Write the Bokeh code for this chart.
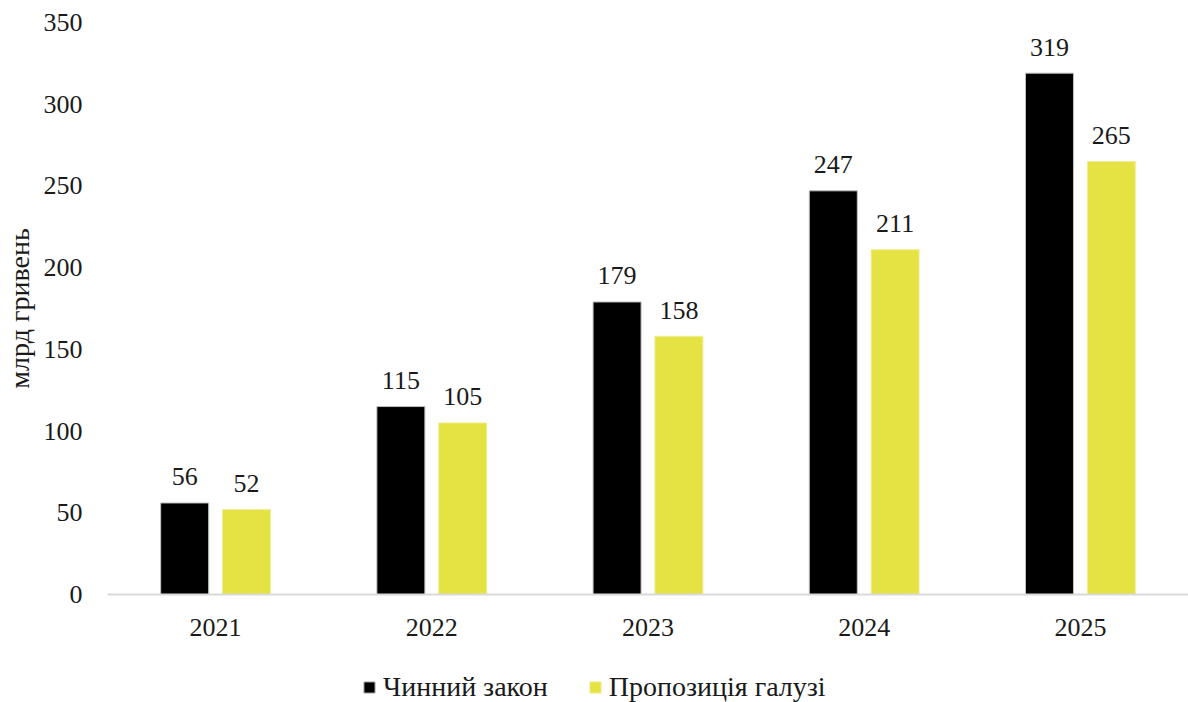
from bokeh.plotting import figure
from bokeh.layouts import column
from bokeh.models import ColumnDataSource, Legend, LegendItem, FixedTicker
from bokeh.transform import dodge
from bokeh.core.properties import value
from bokeh.embed import file_html
from bokeh.resources import INLINE

years = ["2021", "2022", "2023", "2024", "2025"]
current_law = [56, 115, 179, 247, 319]
industry_proposal = [52, 105, 158, 211, 265]
series_names = ["Чинний закон", "Пропозиція галузі"]
y_ticks = [0, 50, 100, 150, 200, 250, 300, 350]
y_label = "млрд гривень"

FONT = "Liberation Serif"
BLACK = "#000000"
YELLOW = "#E5E343"
TXT = "#1a1a1a"
BLACK_EDGE = "#bfbfbf"
YELLOW_EDGE = "#f0ee9a"

src = ColumnDataSource(dict(
    years=years,
    a=current_law,
    b=industry_proposal,
    a_txt=[str(v) for v in current_law],
    b_txt=[str(v) for v in industry_proposal],
))

p = figure(x_range=years, y_range=(0, 350),
           frame_width=1081, frame_height=572,
           output_backend="svg", toolbar_location=None,
           min_border_left=107, min_border_right=0, min_border_top=22,
           min_border_bottom=66)

off = 0.143
bw = 0.222
r1 = p.vbar(x=dodge("years", -off, range=p.x_range), top="a", width=bw, source=src,
            fill_color=BLACK, line_color=BLACK_EDGE, line_width=1)
r2 = p.vbar(x=dodge("years", off, range=p.x_range), top="b", width=bw, source=src,
            fill_color=YELLOW, line_color=YELLOW_EDGE, line_width=1)

for col, txt, sign in (("a", "a_txt", -1), ("b", "b_txt", 1)):
    p.text(x=dodge("years", sign * off, range=p.x_range), y=col, text=txt, source=src,
           text_align="center", text_baseline="alphabetic", y_offset=-26,
           text_font=value(FONT), text_font_size="26px", text_color=TXT)

p.grid.grid_line_color = None
p.outline_line_color = None
p.background_fill_color = "white"
p.border_fill_color = "white"

p.yaxis.ticker = FixedTicker(ticks=y_ticks)
p.yaxis.axis_line_color = None
p.yaxis.major_tick_line_color = None
p.yaxis.minor_tick_line_color = None
p.yaxis.major_tick_out = 0
p.yaxis.minor_tick_out = 0
p.yaxis.major_label_text_font = FONT
p.yaxis.major_label_text_font_size = "26px"
p.yaxis.major_label_text_color = TXT
p.yaxis.major_label_standoff = 25
p.yaxis.axis_label = y_label
p.yaxis.axis_label_text_font = FONT
p.yaxis.axis_label_text_font_size = "28px"
p.yaxis.axis_label_text_font_style = "normal"
p.yaxis.axis_label_text_color = TXT
p.yaxis.axis_label_standoff = 6

p.xaxis.axis_line_color = "#d9d9d9"
p.xaxis.axis_line_width = 2
p.xaxis.major_tick_line_color = None
p.xaxis.minor_tick_line_color = None
p.xaxis.major_tick_out = 0
p.xaxis.minor_tick_out = 0
p.xaxis.major_label_text_font = FONT
p.xaxis.major_label_text_font_size = "26px"
p.xaxis.major_label_text_color = TXT
p.xaxis.major_label_standoff = 24

# Legend strip below the chart (hidden proxy renderers drawn from the same data)
lp = figure(x_range=years, y_range=(0, 350), width=1188, height=54,
            output_backend="svg", toolbar_location=None,
            x_axis_type=None, y_axis_type=None,
            min_border_left=0, min_border_right=0, min_border_top=0, min_border_bottom=0)
lp.outline_line_color = None
lp.grid.grid_line_color = None
lp.background_fill_color = "white"
lp.border_fill_color = "white"
l1 = lp.vbar(x="years", top="a", width=bw, source=src,
             fill_color=BLACK, line_color=BLACK_EDGE, line_width=1, visible=False)
l2 = lp.vbar(x="years", top="b", width=bw, source=src,
             fill_color=YELLOW, line_color=YELLOW_EDGE, line_width=1, visible=False)

legend = Legend(items=[LegendItem(label=series_names[0], renderers=[l1]),
                       LegendItem(label=series_names[1], renderers=[l2])],
                orientation="horizontal", location=(255, 11),
                glyph_width=14, glyph_height=14, label_standoff=7, spacing=40,
                label_text_font=FONT, label_text_font_size="28px",
                label_text_color=TXT,
                border_line_color=None, background_fill_alpha=0,
                inactive_fill_alpha=0, click_policy="none",
                margin=0, padding=0)
lp.add_layout(legend, "center")

layout = column(p, lp, spacing=0)
open("out.html", "w").write(file_html(layout, INLINE))
